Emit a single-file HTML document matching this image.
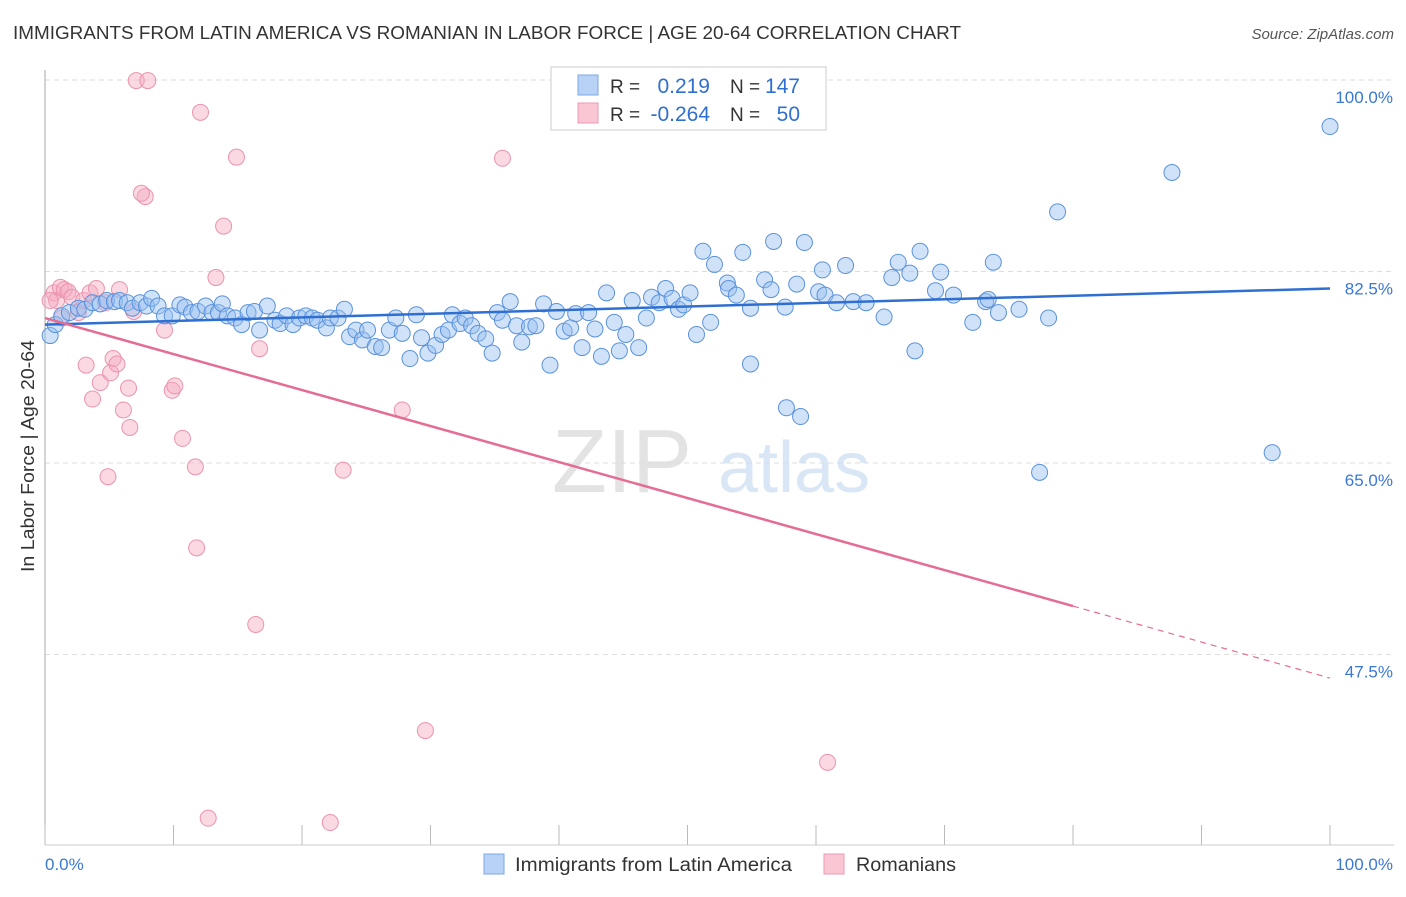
<!DOCTYPE html>
<html><head><meta charset="utf-8"><style>
body{margin:0;background:#fff;font-family:"Liberation Sans",sans-serif}
svg text{font-family:"Liberation Sans",sans-serif}
</style></head><body>
<svg id="chart" width="1406" height="892" viewBox="0 0 1406 892" xmlns="http://www.w3.org/2000/svg">
<text x="13" y="39" font-size="18" fill="#333" textLength="948" lengthAdjust="spacingAndGlyphs">IMMIGRANTS FROM LATIN AMERICA VS ROMANIAN IN LABOR FORCE | AGE 20-64 CORRELATION CHART</text>
<text x="1394" y="39" font-size="15" fill="#555" text-anchor="end" font-style="italic">Source: ZipAtlas.com</text>
<g id="grid"></g>
<text x="552" y="492" font-size="90" fill="#ddd" font-family="Liberation Serif" opacity="0.8">ZIP</text>
<text x="718" y="492" font-size="72" fill="#cfe0f3" opacity="0.8">atlas</text>
<text transform="translate(34,456) rotate(-90)" font-size="18" fill="#333" text-anchor="middle" textLength="232" lengthAdjust="spacingAndGlyphs">In Labor Force | Age 20-64</text>
<g id="marks"></g>
<g>
<rect x="551" y="67" width="275" height="63" fill="#fff" stroke="#ccc"/>
<rect x="578" y="75" width="20" height="20" fill="#b7d2f5" stroke="#7aa8e6"/>
<rect x="578" y="103" width="20" height="20" fill="#f9c6d4" stroke="#ee9ab3"/>
<text x="610" y="93" font-size="19" fill="#333">R =</text>
<text x="710" y="93" font-size="21" fill="#2f6fd1" text-anchor="end">0.219</text>
<text x="730" y="93" font-size="19" fill="#333">N =</text>
<text x="800" y="93" font-size="21" fill="#2f6fd1" text-anchor="end">147</text>
<text x="610" y="121" font-size="19" fill="#333">R =</text>
<text x="710" y="121" font-size="21" fill="#2f6fd1" text-anchor="end">-0.264</text>
<text x="730" y="121" font-size="19" fill="#333">N =</text>
<text x="800" y="121" font-size="21" fill="#2f6fd1" text-anchor="end">50</text>
</g>
<g>
<rect x="484" y="854" width="20" height="20" fill="#b7d2f5" stroke="#7aa8e6"/>
<text x="515" y="871" font-size="19" fill="#333" textLength="277" lengthAdjust="spacingAndGlyphs">Immigrants from Latin America</text>
<rect x="824" y="854" width="20" height="20" fill="#f9c6d4" stroke="#ee9ab3"/>
<text x="856" y="871" font-size="19" fill="#333" textLength="100" lengthAdjust="spacingAndGlyphs">Romanians</text>
</g>
<text x="45" y="870" font-size="17" fill="#3a78d4">0.0%</text>
<text x="1393" y="870" font-size="17" fill="#3a78d4" text-anchor="end">100.0%</text>
</svg>
<script>
const yTicks=[100,82.5,65,47.5];
const yTickLabels=["100.0%","82.5%","65.0%","47.5%"];
const xTicks=[0,10,20,30,40,50,60,70,80,90,100];
const blueX=[0.4,0.8,1.3,1.9,2.6,3.1,3.7,4.3,4.8,5.4,5.8,6.4,6.8,7.4,7.9,8.3,8.8,9.3,9.9,10.5,10.9,11.4,11.9,12.5,13.0,13.5,13.8,14.2,14.8,15.3,15.8,16.3,16.7,17.3,17.9,18.3,18.8,19.3,19.8,20.3,20.8,21.2,21.9,22.2,22.8,23.3,23.7,24.2,24.7,25.1,25.7,26.2,26.8,27.3,27.8,28.4,28.9,29.3,29.8,30.4,30.9,31.4,31.7,32.3,32.7,33.2,33.7,34.3,34.8,35.2,35.6,36.2,36.7,37.1,37.7,38.2,38.8,39.3,39.8,40.4,40.9,41.3,41.8,42.3,42.8,43.3,43.7,44.3,44.7,45.2,45.7,46.2,46.8,47.2,47.8,48.3,48.8,49.3,49.7,50.2,50.7,51.2,51.8,52.1,53.1,53.2,53.8,54.3,54.9,54.9,56.0,56.5,56.7,57.6,57.7,58.5,58.8,59.1,60.2,60.5,60.7,61.6,62.3,62.9,63.9,65.3,65.9,66.4,67.3,67.7,68.1,69.3,69.7,70.7,72.2,73.2,73.4,73.8,74.2,75.8,77.4,78.1,78.8,87.7,95.5,100];
const blueY=[78.2,79.2,80.0,80.3,80.7,80.6,81.2,81.1,81.4,81.3,81.4,81.2,80.7,81.2,80.9,81.6,80.9,80.0,80.0,81.0,80.8,80.3,80.4,80.9,80.3,80.3,81.1,80.0,79.8,79.2,80.3,80.4,78.7,80.9,79.6,79.3,80.0,79.2,79.8,80.0,79.8,79.6,78.9,79.8,79.8,80.6,78.1,78.7,77.8,78.7,77.2,77.1,78.7,79.8,78.4,76.1,80.1,78.0,76.6,77.3,78.3,78.7,80.1,79.3,79.8,79.1,78.4,77.9,76.6,80.3,79.6,81.3,79.1,77.6,79.0,79.1,81.1,75.5,80.4,78.6,78.9,80.2,77.1,80.3,78.8,76.3,82.1,79.4,76.8,78.3,81.4,77.1,79.8,81.7,81.2,82.5,81.6,80.6,81.0,82.1,78.3,85.9,79.4,84.7,83.0,82.5,81.9,85.8,80.7,75.6,83.3,82.4,86.8,80.8,71.6,82.9,70.8,86.7,82.2,84.2,81.9,81.2,84.6,81.3,81.2,79.9,83.5,84.9,83.9,76.8,85.9,82.3,84.0,81.9,79.4,81.3,81.5,84.9,80.3,80.6,65.7,79.8,89.5,93.1,67.5,97.3];
const pinkX=[0.7,0.9,1.2,1.5,1.8,2.1,2.6,3.0,3.5,4.0,4.3,4.7,4.9,5.1,5.3,5.6,5.8,6.1,6.5,6.6,6.9,7.1,7.8,7.5,8.0,9.3,9.9,10.1,10.7,11.7,11.8,12.1,12.7,13.3,13.9,14.9,16.4,16.7,22.2,23.2,27.8,29.6,35.6,53.8,60.9,1.3,0.4,3.2,3.7];
const pinkY=[82.1,81.4,82.6,82.4,82.2,81.7,80.3,81.4,82.1,82.5,73.9,81.2,65.3,74.8,76.1,75.6,82.4,71.4,73.4,69.8,80.4,101.5,90.9,91.2,101.5,78.7,73.2,73.6,68.8,66.2,58.8,98.6,34.1,83.5,88.2,94.5,51.8,77.0,33.7,65.9,71.4,42.1,94.4,101.5,39.2,79.8,81.4,75.5,72.4];
const blueFit=[79.2,82.5];   // value at x=0, x=100
const pinkFit=[79.8,46.9];   // value at x=0, x=100
const pinkSolidEnd=80;

const NS="http://www.w3.org/2000/svg";
const xS=v=>45+v*12.85;
const yS=v=>97+(100-v)*10.943;
function mk(tag,attrs,parent){const e=document.createElementNS(NS,tag);for(const k in attrs)e.setAttribute(k,attrs[k]);parent.appendChild(e);return e;}
const grid=document.getElementById('grid'), marks=document.getElementById('marks');
yTicks.forEach((t,i)=>{
  const y=yS(t)-17;
  const l=mk('line',{x1:45,x2:1394,y1:y,y2:y,stroke:'#ddd','stroke-dasharray':'5,4'},grid);
  
  
  const tx=mk('text',{x:1393,y:yS(t)+6,'font-size':17,fill:'#3a78d4','text-anchor':'end'},grid);
  tx.textContent=yTickLabels[i];
  
  
});
const ax=mk('line',{x1:45,x2:45,y1:70,y2:845,stroke:'#aaa'},grid);


const bx=mk('line',{x1:45,x2:1394,y1:845,y2:845,stroke:'#ccc'},grid);


xTicks.forEach(t=>{
  const l=mk('line',{x1:xS(t),x2:xS(t),y1:825,y2:845,stroke:'#bbb'},grid);
  
  
});
pinkX.forEach((x,i)=>{
  const c=mk('circle',{cx:xS(x),cy:yS(pinkY[i]),r:8,fill:'rgba(244,170,192,0.45)',stroke:'#eb93ad','stroke-width':1},marks);
  
  
});
blueX.forEach((x,i)=>{
  const c=mk('circle',{cx:xS(x),cy:yS(blueY[i]),r:8,fill:'rgba(150,190,240,0.45)',stroke:'#5a92dc','stroke-width':1},marks);
  
  
});
const pv=x=>pinkFit[0]+(pinkFit[1]-pinkFit[0])*x/100;
const bl=mk('line',{x1:xS(0),y1:yS(blueFit[0]),x2:xS(100),y2:yS(blueFit[1]),stroke:'#2f6fd1','stroke-width':2.5},marks);


const pl=mk('line',{x1:xS(0),y1:yS(pv(0)),x2:xS(pinkSolidEnd),y2:yS(pv(pinkSolidEnd)),stroke:'#e56c93','stroke-width':2.5},marks);


const pd=mk('line',{x1:xS(pinkSolidEnd),y1:yS(pv(pinkSolidEnd)),x2:xS(100),y2:yS(pv(100)),stroke:'#e56c93','stroke-width':1.2,'stroke-dasharray':'6,5'},marks);


</script>
</body></html>
